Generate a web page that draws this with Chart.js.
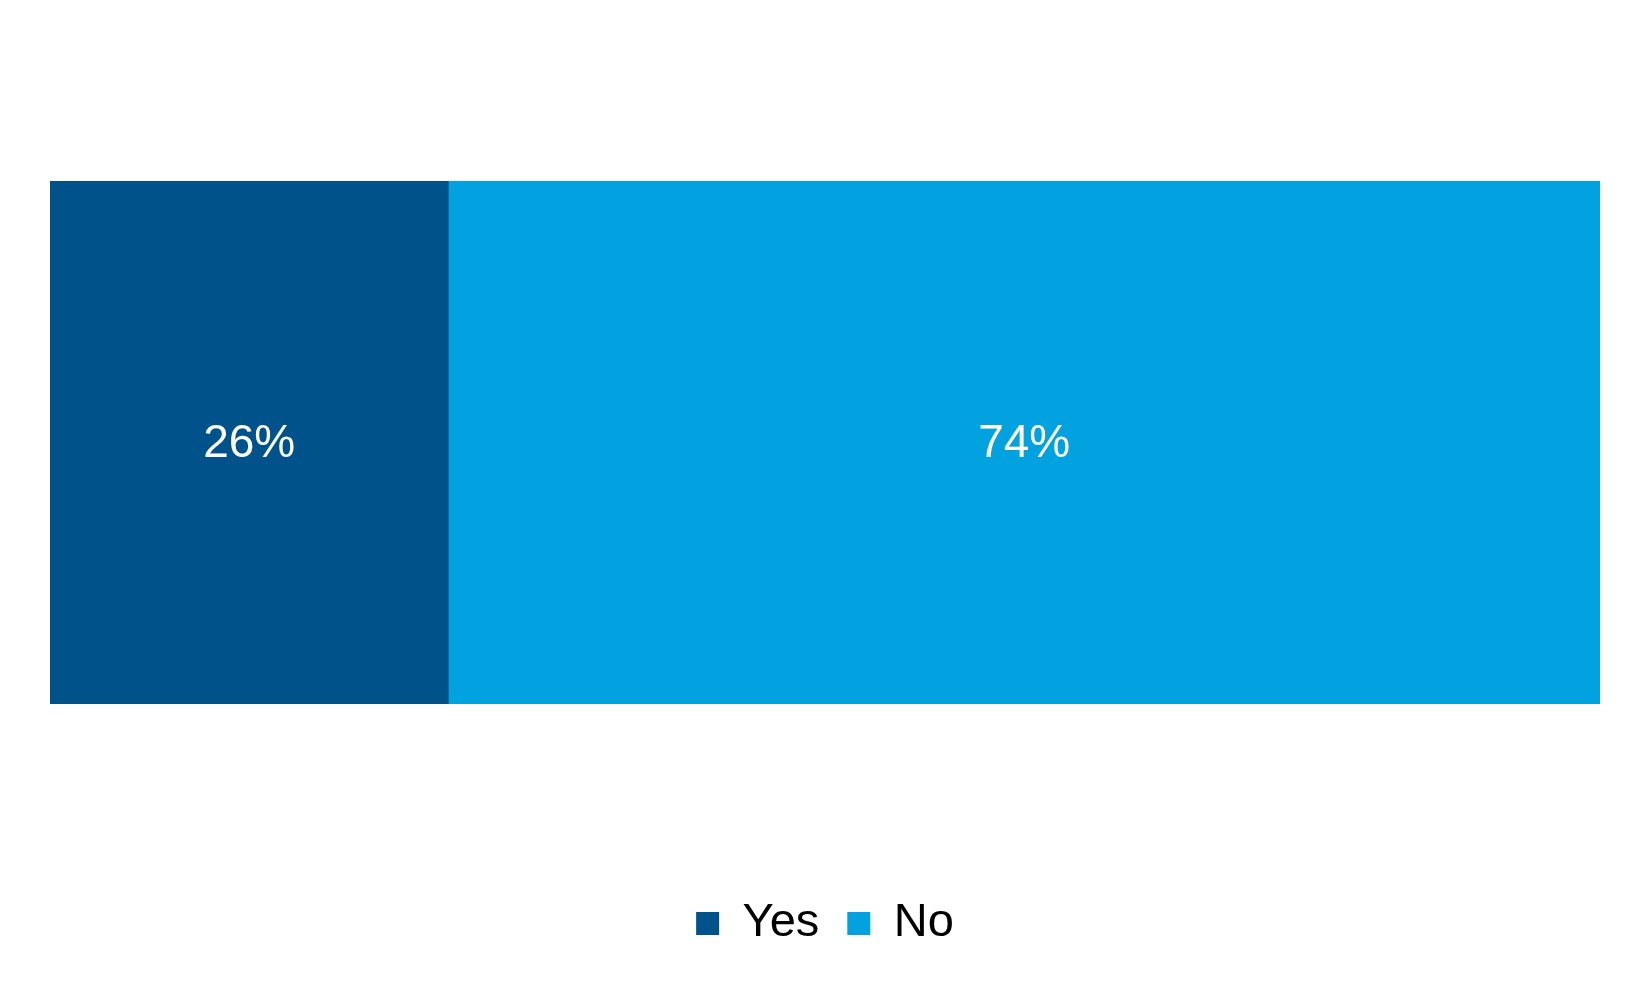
<!DOCTYPE html>
<html>
<head>
<meta charset="utf-8">
<script src="https://cdn.jsdelivr.net/npm/chart.js@4/dist/chart.umd.min.js"></script>
<style>
  html, body { margin: 0; padding: 0; background: #fff; }
  #wrap { width: 1650px; height: 990px; }
</style>
</head>
<body>
<div id="wrap"><canvas id="chart" width="1650" height="990"></canvas></div>
<script>
const categories = [''];
const seriesNames = ['Yes', 'No'];
const yesValues = [25.7];
const noValues = [74.3];
const seriesColors = ['#00538A', '#02A2E0'];

const FONT = '"Liberation Sans", Arial, sans-serif';

// white percentage labels centred in each segment
const barLabels = {
    id: 'barLabels',
    afterDatasetsDraw(chart) {
        const ctx = chart.ctx;
        ctx.save();
        ctx.fillStyle = '#ffffff';
        ctx.font = '46px ' + FONT;
        ctx.textAlign = 'center';
        ctx.textBaseline = 'middle';
        chart.data.datasets.forEach((ds, i) => {
            chart.getDatasetMeta(i).data.forEach((bar, j) => {
                const p = bar.getCenterPoint();
                ctx.fillText(Math.round(ds.data[j]) + '%', p.x, p.y + 2);
            });
        });
        ctx.restore();
    }
};

new Chart(document.getElementById('chart'), {
    type: 'bar',
    data: {
        labels: categories,
        datasets: [
            { label: seriesNames[0], data: yesValues, backgroundColor: seriesColors[0] },
            { label: seriesNames[1], data: noValues, backgroundColor: seriesColors[1] }
        ]
    },
    options: {
        indexAxis: 'y',
        responsive: false,
        animation: false,
        devicePixelRatio: 1,
        layout: { padding: { left: 50, right: 50, top: 181, bottom: 33 } },
        datasets: { bar: { categoryPercentage: 1, barPercentage: 1, borderWidth: 0 } },
        scales: {
            x: {
                stacked: true,
                min: 0,
                max: 100,
                grid: { display: false },
                border: { display: false },
                ticks: { display: false },
                afterFit: (scale) => { scale.height = 168; }
            },
            y: { stacked: true, display: false }
        },
        plugins: {
            legend: {
                position: 'bottom',
                labels: {
                    color: '#000000',
                    font: { size: 47, family: FONT },
                    boxWidth: 23,
                    boxHeight: 23,
                    padding: 28
                }
            },
            tooltip: { enabled: false }
        }
    },
    plugins: [barLabels]
});
</script>
</body>
</html>
